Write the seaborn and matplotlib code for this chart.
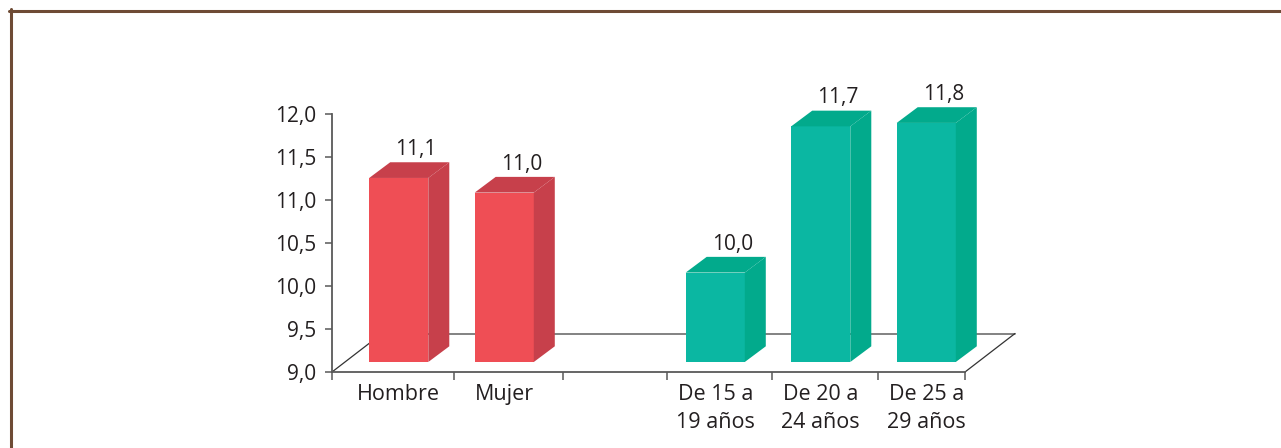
import numpy as np
import pandas as pd
import matplotlib
matplotlib.use("Agg")
import matplotlib.pyplot as plt
import matplotlib.transforms as mtransforms
from matplotlib.patches import Polygon
from matplotlib.lines import Line2D
import seaborn as sns

# ---------------- data ----------------
categories = ["Hombre", "Mujer", "", "De 15 a\n19 años", "De 20 a\n24 años", "De 25 a\n29 años"]
values = [11.14, 10.97, np.nan, 10.04, 11.74, 11.78]
groups = ["sexo", "sexo", "", "edad", "edad", "edad"]
y_ticks = [9.0, 9.5, 10.0, 10.5, 11.0, 11.5, 12.0]

front_colors = {"sexo": "#EF4E55", "edad": "#0BB7A2"}
dark_colors = {"sexo": "#C7404B", "edad": "#02AA8C"}

sns.set_theme(style="white")
plt.rcParams["font.family"] = ["Open Sans", "DejaVu Sans"]

W, H, DPI = 1281, 448, 100
fig = plt.figure(figsize=(W / DPI, H / DPI), dpi=DPI)
fig.patch.set_facecolor("white")
ax = fig.add_axes([332 / W, 1 - 372 / H, 633 / W, 258 / H])
ax.set_facecolor("none")

df = pd.DataFrame({"cat": categories, "val": values, "grp": groups}).dropna()
sns.barplot(data=df, x="cat", y="val", order=categories, hue="grp",
            palette=front_colors, width=0.56, dodge=False, legend=False,
            errorbar=None, saturation=1, ax=ax)

ax.set_xlim(-0.5, 5.5)
ax.set_ylim(9, 12)
ax.set_xlabel("")
ax.set_ylabel("")

TXT = "#231F20"
AX = "#595959"
fig.canvas.draw()

# offsets (display pixels)
bar_dx, bar_dy = 14, 10          # bar front plane relative to floor front
dep_dx, dep_dy = 21, 15.7        # bar depth
floor_dx, floor_dy = 50, 38.5    # floor depth

shift = mtransforms.ScaledTranslation(bar_dx / DPI, bar_dy / DPI, fig.dpi_scale_trans)
ident = mtransforms.IdentityTransform()

# floor
(fx0, fy0) = ax.transData.transform((-0.5, 9.0))
(fx1, fy1) = ax.transData.transform((5.5, 9.0))
floor_lines = [
    ([fx0 + floor_dx, fx1 + floor_dx], [fy0 + floor_dy, fy1 + floor_dy], "#606060", 1.1),
    ([fx0, fx0 + floor_dx], [fy0, fy0 + floor_dy], "#333333", 0.9),
    ([fx1, fx1 + floor_dx], [fy1, fy1 + floor_dy], "#333333", 0.9),
]
for xs, ys, c, lw in floor_lines:
    ax.add_line(Line2D(xs, ys, color=c, lw=lw, transform=ident, clip_on=False, zorder=1))

# bars with 3D faces
for p in list(ax.patches):
    v = p.get_height()
    if not np.isfinite(v) or v <= 0:
        continue
    x0 = p.get_x()
    x1 = x0 + p.get_width()
    k = int(round(x0 + p.get_width() / 2))
    g = groups[k]
    p.set_y(9.0)
    p.set_height(v - 9.0)
    p.set_transform(ax.transData + shift)
    p.set_clip_on(False)
    p.set_zorder(3)
    p.set_edgecolor("none")
    X0, Yt = ax.transData.transform((x0, v)) + np.array([bar_dx, bar_dy])
    X1, Yb = ax.transData.transform((x1, 9.0)) + np.array([bar_dx, bar_dy])
    top = Polygon([(X0, Yt), (X0 + dep_dx, Yt + dep_dy), (X1 + dep_dx, Yt + dep_dy), (X1, Yt)],
                  closed=True, facecolor=dark_colors[g], edgecolor="none",
                  transform=ident, clip_on=False, zorder=3)
    side = Polygon([(X1, Yt), (X1 + dep_dx, Yt + dep_dy), (X1 + dep_dx, Yb + dep_dy), (X1, Yb)],
                   closed=True, facecolor=dark_colors[g], edgecolor="none",
                   transform=ident, clip_on=False, zorder=3)
    ax.add_patch(top)
    ax.add_patch(side)
    ax.annotate(f"{v:.1f}".replace(".", ","), xy=(k, v), xytext=(31 * 0.72, 33 * 0.72),
                textcoords="offset points", ha="center", va="baseline",
                fontsize=15, color=TXT, zorder=5, annotation_clip=False)

# spines
for s in ["top", "right"]:
    ax.spines[s].set_visible(False)
for s in ["left", "bottom"]:
    ax.spines[s].set_color(AX)
    ax.spines[s].set_linewidth(1.3)
    ax.spines[s].set_zorder(2)

# y axis
ax.set_yticks(y_ticks, [f"{t:.1f}".replace(".", ",") for t in y_ticks])
ax.tick_params(axis="y", left=True, direction="out", length=5, width=1.1,
               color=AX, pad=6.5, labelsize=15, labelcolor=TXT)

# x axis
ax.set_xticks(range(len(categories)), categories)
ax.set_xticks([-0.5, 0.656, 1.69, 2.675, 3.67, 4.675, 5.5], minor=True)
ax.tick_params(axis="x", which="major", bottom=False, length=0, pad=8.5,
               labelsize=15.5, labelcolor=TXT)
ax.tick_params(axis="x", which="minor", bottom=True, direction="out", length=5.5,
               width=1.1, color=AX)
lab_shift = mtransforms.ScaledTranslation(bar_dx / DPI, 0, fig.dpi_scale_trans)
for lbl in ax.get_xticklabels():
    lbl.set_transform(lbl.get_transform() + lab_shift)
    lbl.set_linespacing(1.42)

# outer frame
BR = "#6E4B35"
fig.add_artist(Line2D([9 / W, 1.0], [1 - 11 / H, 1 - 11 / H], color=BR, lw=2.2,
                      transform=fig.transFigure))
fig.add_artist(Line2D([11 / W, 11 / W], [0.0, 1 - 9.5 / H], color=BR, lw=2.2,
                      transform=fig.transFigure))

fig.savefig("out.png", dpi=DPI, facecolor="white")
